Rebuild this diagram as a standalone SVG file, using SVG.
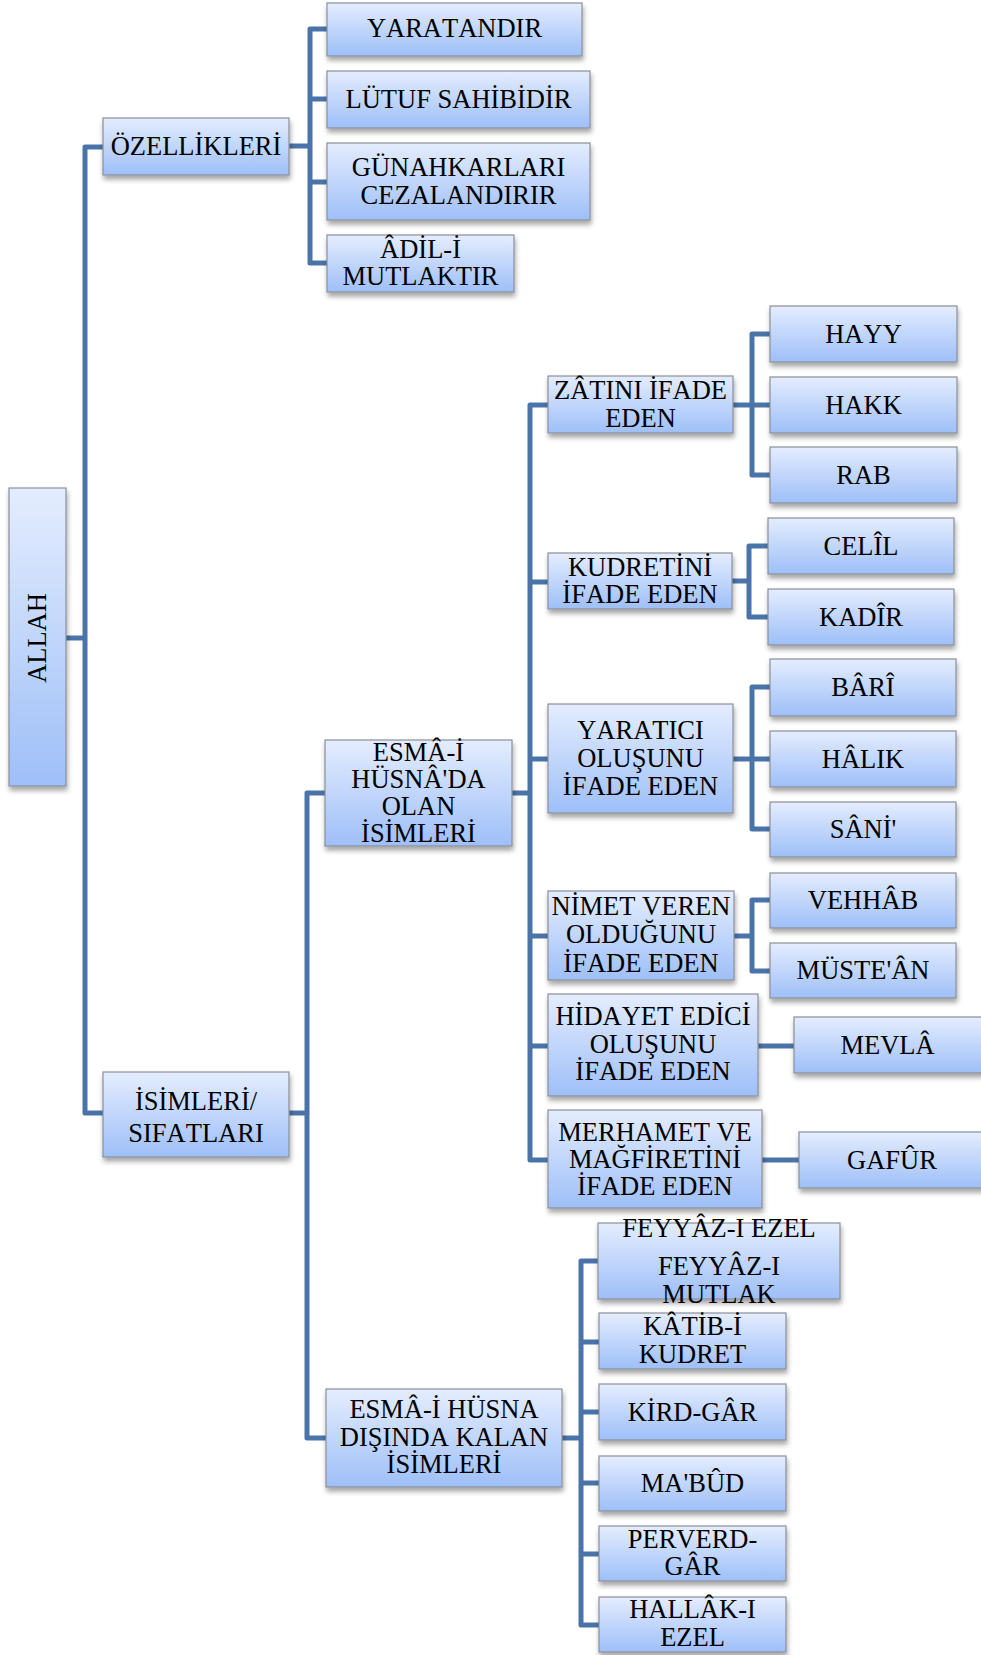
<svg xmlns="http://www.w3.org/2000/svg" width="981" height="1655" viewBox="0 0 981 1655">
<style>
.box{fill:url(#grad);stroke:#8a8f98;stroke-width:1.2;filter:url(#sh)}
.t{font-family:"Liberation Serif","Times New Roman",serif;font-size:26.5px;fill:#000;text-anchor:middle;font-kerning:none}
.c{fill:none;stroke:#4a74a9;stroke-width:5;stroke-linejoin:round;stroke-linecap:butt}
</style>
<defs>
<linearGradient id="grad" x1="0" y1="0" x2="0" y2="1">
<stop offset="0" stop-color="#e4edfe"/>
<stop offset="1" stop-color="#9ebff8"/>
</linearGradient>
<filter id="sh" x="-10%" y="-10%" width="130%" height="140%">
<feDropShadow dx="1" dy="4" stdDeviation="2.5" flood-color="#000" flood-opacity="0.35"/>
</filter>
</defs>
<rect width="981" height="1655" fill="#fff"/>
<g id="connectors">
<path class="c" d="M66,638 H85"/>
<path class="c" d="M103,147 H85 V1113 H103"/>
<path class="c" d="M289,146 H310"/>
<path class="c" d="M327,29 H310 V263 H327"/>
<path class="c" d="M310,99 H327 M310,182 H327"/>
<path class="c" d="M289,1113 H307"/>
<path class="c" d="M325,793 H307 V1438 H326"/>
<path class="c" d="M512,793 H530"/>
<path class="c" d="M548,405 H530 V1160 H548"/>
<path class="c" d="M530,582 H548 M530,759 H548 M530,936 H548 M530,1046 H548"/>
<path class="c" d="M733,405 H752"/>
<path class="c" d="M770,334 H752 V475 H770 M752,405 H770"/>
<path class="c" d="M732,581 H749"/>
<path class="c" d="M768,546 H749 V617 H768"/>
<path class="c" d="M733,759 H752"/>
<path class="c" d="M770,687 H752 V829 H770 M752,759 H770"/>
<path class="c" d="M734,936 H752"/>
<path class="c" d="M770,900 H752 V971 H770"/>
<path class="c" d="M758,1046 H794"/>
<path class="c" d="M762,1160 H799"/>
<path class="c" d="M562,1438 H581"/>
<path class="c" d="M599,1261 H581 V1625 H599"/>
<path class="c" d="M581,1342 H599 M581,1412 H599 M581,1483 H599 M581,1554 H599"/>
</g>
<g id="allah"><rect class="box" x="9" y="488" width="57" height="298"/><text class="t" transform="translate(46,638) rotate(-90)" x="0" y="0">ALLAH</text></g>
<g id="ozellikleri"><rect class="box" x="103" y="118" width="186" height="57"/><text class="t" x="196" y="155">ÖZELLİKLERİ</text></g>
<g id="isimleri"><rect class="box" x="103" y="1072" width="186" height="85"/><text class="t"><tspan x="196" y="1110">İSİMLERİ/</tspan><tspan x="196" y="1142">SIFATLARI</tspan></text></g>
<g id="yaratandir"><rect class="box" x="327" y="3" width="255" height="53"/><text class="t" x="454.5" y="37">YARATANDIR</text></g>
<g id="lutuf"><rect class="box" x="327" y="71" width="263" height="57"/><text class="t" x="458.5" y="108">LÜTUF SAHİBİDİR</text></g>
<g id="gunahkarlari"><rect class="box" x="327" y="143" width="263" height="77"/><text class="t"><tspan x="458.5" y="176">GÜNAHKARLARI</tspan><tspan x="458.5" y="204">CEZALANDIRIR</tspan></text></g>
<g id="adil"><rect class="box" x="327" y="235" width="187" height="57"/><text class="t"><tspan x="420.5" y="257.5">ÂDİL-İ</tspan><tspan x="420.5" y="285">MUTLAKTIR</tspan></text></g>
<g id="esma-husnada"><rect class="box" x="325" y="740" width="187" height="106"/><text class="t"><tspan x="418.5" y="761">ESMÂ-İ</tspan><tspan x="418.5" y="788">HÜSNÂ'DA</tspan><tspan x="418.5" y="815">OLAN</tspan><tspan x="418.5" y="842">İSİMLERİ</tspan></text></g>
<g id="esma-disinda"><rect class="box" x="326" y="1389" width="236" height="98"/><text class="t"><tspan x="444" y="1418">ESMÂ-İ HÜSNA</tspan><tspan x="444" y="1446">DIŞINDA KALAN</tspan><tspan x="444" y="1473">İSİMLERİ</tspan></text></g>
<g id="zatini"><rect class="box" x="548" y="376" width="185" height="57"/><text class="t"><tspan x="640.5" y="399">ZÂTINI İFADE</tspan><tspan x="640.5" y="426.5">EDEN</tspan></text></g>
<g id="kudretini"><rect class="box" x="548" y="553" width="184" height="56"/><text class="t"><tspan x="640" y="576">KUDRETİNİ</tspan><tspan x="640" y="603">İFADE EDEN</tspan></text></g>
<g id="yaratici"><rect class="box" x="548" y="704" width="185" height="109"/><text class="t"><tspan x="640.5" y="739">YARATICI</tspan><tspan x="640.5" y="767">OLUŞUNU</tspan><tspan x="640.5" y="795">İFADE EDEN</tspan></text></g>
<g id="nimet"><rect class="box" x="548" y="891" width="186" height="89"/><text class="t"><tspan x="641" y="915">NİMET VEREN</tspan><tspan x="641" y="943">OLDUĞUNU</tspan><tspan x="641" y="972">İFADE EDEN</tspan></text></g>
<g id="hidayet"><rect class="box" x="548" y="994" width="210" height="102"/><text class="t"><tspan x="653" y="1025">HİDAYET EDİCİ</tspan><tspan x="653" y="1053">OLUŞUNU</tspan><tspan x="653" y="1080">İFADE EDEN</tspan></text></g>
<g id="merhamet"><rect class="box" x="548" y="1110" width="214" height="98"/><text class="t"><tspan x="655" y="1141">MERHAMET VE</tspan><tspan x="655" y="1168">MAĞFİRETİNİ</tspan><tspan x="655" y="1195">İFADE EDEN</tspan></text></g>
<g id="hayy"><rect class="box" x="770" y="306" width="187" height="56"/><text class="t" x="863.5" y="342.5">HAYY</text></g>
<g id="hakk"><rect class="box" x="770" y="377" width="187" height="56"/><text class="t" x="863.5" y="413.5">HAKK</text></g>
<g id="rab"><rect class="box" x="770" y="447" width="187" height="56"/><text class="t" x="863.5" y="483.5">RAB</text></g>
<g id="celil"><rect class="box" x="768" y="518" width="186" height="56"/><text class="t" x="861" y="554.5">CELÎL</text></g>
<g id="kadir"><rect class="box" x="768" y="589" width="186" height="56"/><text class="t" x="861" y="625.5">KADÎR</text></g>
<g id="bari"><rect class="box" x="770" y="659" width="186" height="57"/><text class="t" x="863" y="696">BÂRÎ</text></g>
<g id="halik"><rect class="box" x="770" y="731" width="186" height="56"/><text class="t" x="863" y="767.5">HÂLIK</text></g>
<g id="sani"><rect class="box" x="770" y="802" width="186" height="55"/><text class="t" x="863" y="838">SÂNİ'</text></g>
<g id="vehhab"><rect class="box" x="770" y="873" width="186" height="55"/><text class="t" x="863" y="909">VEHHÂB</text></g>
<g id="musteean"><rect class="box" x="770" y="943" width="186" height="55"/><text class="t" x="863" y="979">MÜSTE'ÂN</text></g>
<g id="mevla"><rect class="box" x="794" y="1017" width="190" height="56"/><text class="t" x="887.5" y="1053.5">MEVLÂ</text></g>
<g id="gafur"><rect class="box" x="799" y="1132" width="186" height="56"/><text class="t" x="892" y="1168.5">GAFÛR</text></g>
<g id="feyyaz"><rect class="box" x="598" y="1223" width="242" height="76"/><text class="t"><tspan x="719" y="1237">FEYYÂZ-I EZEL</tspan><tspan x="719" y="1275">FEYYÂZ-I</tspan><tspan x="719" y="1303">MUTLAK</tspan></text></g>
<g id="katib"><rect class="box" x="599" y="1313" width="187" height="56"/><text class="t"><tspan x="692.5" y="1335">KÂTİB-İ</tspan><tspan x="692.5" y="1363">KUDRET</tspan></text></g>
<g id="kirdgar"><rect class="box" x="599" y="1384" width="187" height="56"/><text class="t" x="692.5" y="1420.5">KİRD-GÂR</text></g>
<g id="mabud"><rect class="box" x="599" y="1456" width="187" height="55"/><text class="t" x="692.5" y="1492">MA'BÛD</text></g>
<g id="perverdgar"><rect class="box" x="599" y="1526" width="187" height="55"/><text class="t"><tspan x="692.5" y="1548">PERVERD-</tspan><tspan x="692.5" y="1575">GÂR</tspan></text></g>
<g id="hallak"><rect class="box" x="599" y="1597" width="187" height="55"/><text class="t"><tspan x="692.5" y="1618">HALLÂK-I</tspan><tspan x="692.5" y="1646">EZEL</tspan></text></g>
</svg>
